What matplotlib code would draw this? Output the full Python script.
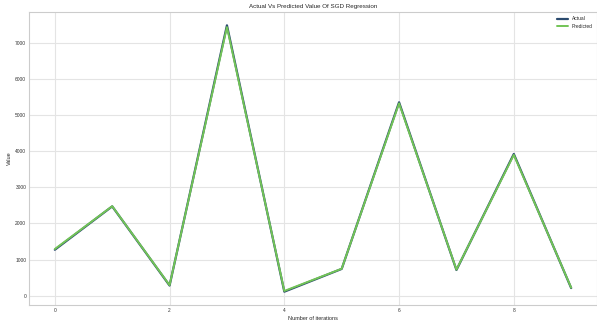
import matplotlib
matplotlib.use("Agg")
import matplotlib.pyplot as plt

iterations = list(range(10))
actual = [1270, 2470, 280, 7480, 110, 740, 5350, 710, 3920, 210]
predicted = [1290, 2475, 290, 7430, 130, 745, 5320, 720, 3895, 220]

title = "Actual Vs Predicted Value Of SGD Regression"
x_label = "Number of iterations"
y_label = "Value"

plt.style.use("seaborn-v0_8-whitegrid")
fig = plt.figure(figsize=(5.97, 3.22), dpi=100, facecolor="white")
ax = fig.add_axes([0.0486, 0.0528, 0.9514, 0.91])

ax.plot(iterations, actual, color="#2a4a6e", lw=1.6, label="Actual")
ax.plot(iterations, predicted, color="#72c456", lw=1.4, label="Predicted")

ax.set_xticks([0, 2, 4, 6, 8])
ax.set_yticks(range(0, 8000, 1000))
ax.tick_params(labelsize=3.5, colors="#333333", length=0, pad=2)
ax.grid(True, color="#e4e4e4", lw=0.8)
for s in ax.spines.values():
    s.set_visible(True)
    s.set_color("#cccccc")
    s.set_linewidth(0.8)

ax.set_title(title, fontsize=4.5, pad=3)
ax.set_xlabel(x_label, fontsize=4, labelpad=2)
ax.set_ylabel(y_label, fontsize=4, labelpad=2)
ax.legend(loc="upper right", fontsize=3.5, frameon=False, handlelength=2.2)

fig.savefig("out.png", dpi=100, facecolor="white")
